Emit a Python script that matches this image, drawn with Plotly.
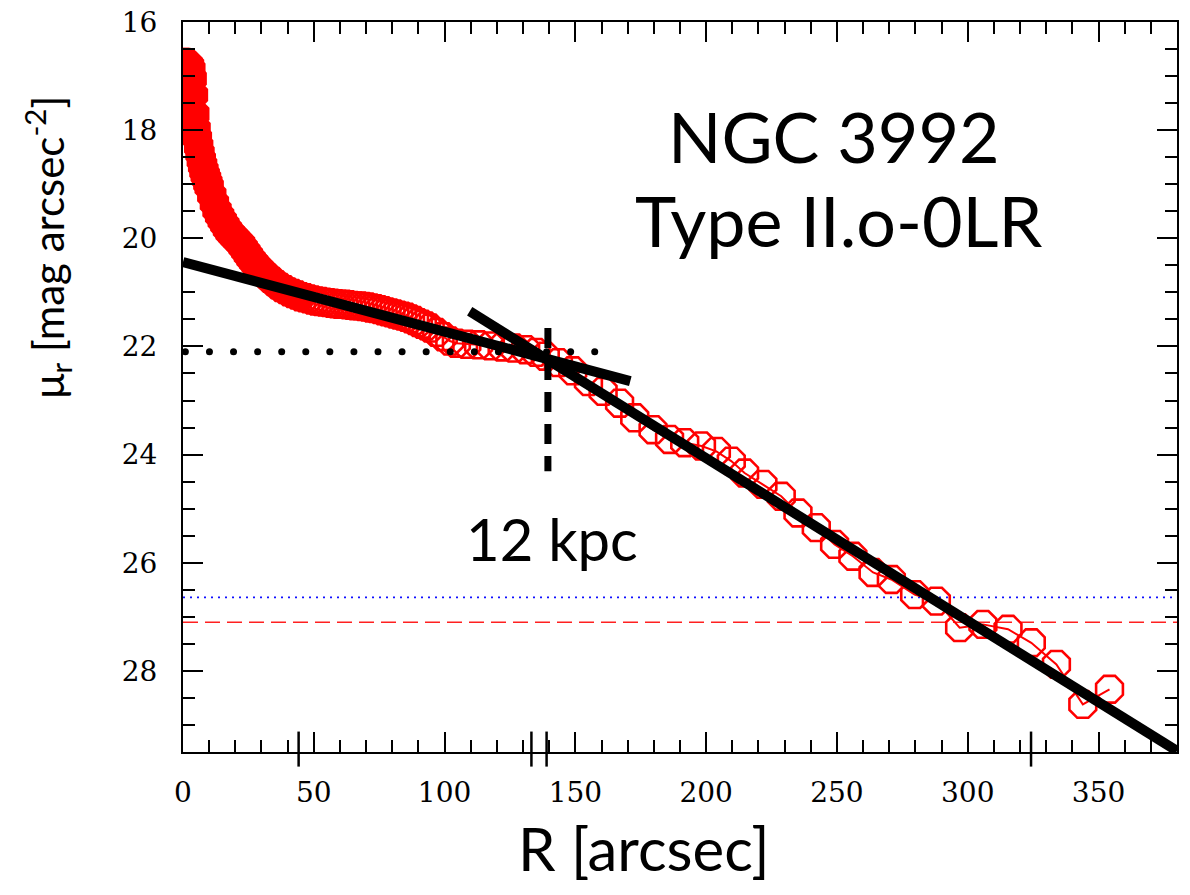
import numpy as np
import plotly.graph_objects as go

# ---------------- data ----------------
# inner, densely-sampled part of the profile (appears as a solid band)
R_inner = [0, 0.5, 1, 1.5, 2, 2.5, 3, 3.5, 4, 4.5, 5, 5.5, 6, 6.5, 7, 7.5, 8, 8.5, 9, 9.5, 10,
           11, 12, 13, 14, 15, 16, 17, 18, 19, 20, 21, 22, 23, 24, 25, 26, 27, 28, 29, 30,
           31.5, 33, 34.5, 36, 37.5, 39, 40.5, 42, 43.5, 45]
mu_inner = [16.75, 16.75, 16.76, 16.77, 16.78, 16.81, 16.88, 17.05, 17.35, 17.7, 17.98, 18.15, 18.3,
            18.43, 18.55, 18.65, 18.75, 18.83, 18.9, 18.98, 19.05,
            19.2, 19.35, 19.48, 19.58, 19.67, 19.75, 19.83, 19.9, 19.95, 20.0, 20.05, 20.1, 20.17,
            20.24, 20.31, 20.38, 20.44, 20.5, 20.55, 20.6,
            20.67, 20.74, 20.8, 20.86, 20.91, 20.95, 20.99, 21.02, 21.05, 21.08]
# outer part of the profile (individual open octagons)
R_outer = [46.5, 48, 49.5, 51, 52.5, 54, 55.5, 57, 58.5, 60, 61.5, 63, 64.5, 66, 67.5, 69, 70.5,
           72, 73.5, 75, 76.5, 78, 79.5, 81, 82.5, 84, 85.5, 87, 88.5, 90, 91.5, 93, 94.5,
           97, 99.5, 102, 104.5, 108.5, 113, 117.5, 122, 126.5, 131, 135, 138.5, 143.5, 149, 155,
           160.6, 166.9, 172.7, 179.7, 186.0, 191.8, 198.2, 203.9, 209.6, 214.7, 221.7, 228.7,
           235.1, 242.1, 249.1, 256.1, 263.8, 270.8, 279.7, 288.0, 296.9, 305.8, 315.4, 324.3,
           333.9, 344.0, 354.2]
mu_outer = [21.10, 21.12, 21.14, 21.16, 21.17, 21.18, 21.19, 21.20, 21.21, 21.22, 21.22, 21.23,
            21.24, 21.25, 21.25, 21.26, 21.27, 21.29, 21.30, 21.32, 21.34, 21.36, 21.38, 21.40,
            21.42, 21.44, 21.46, 21.49, 21.52, 21.56, 21.59, 21.62, 21.66,
            21.74, 21.82, 21.90, 21.94, 21.96, 21.97, 21.99, 22.01, 22.03, 22.06, 22.11, 22.18,
            22.30, 22.45, 22.65,
            22.83, 23.05, 23.32, 23.54, 23.72, 23.78, 23.84, 23.94, 24.12, 24.34, 24.55, 24.77,
            25.08, 25.35, 25.66, 25.88, 26.18, 26.31, 26.59, 26.71, 27.20, 27.14, 27.23, 27.48,
            27.88, 28.62, 28.34]

# exponential fits (end points)
fit_in_R = [0, 171]
fit_in_mu = [20.44, 22.64]
fit_out_R = [109.6, 380]
fit_out_mu = [21.35, 29.48]

# break
break_R = 139.5
break_mu = 22.1
break_dot_R = [-8.3, 157.4]
break_dash_mu = [21.66, 24.31]

# limits
mu_crit_blue = 26.64
mu_crit_red = 27.10
special_ticks_R = [44.2, 133.2, 139.0, 324.2]

x_ticks = [0, 50, 100, 150, 200, 250, 300, 350]
y_ticks = [16, 18, 20, 22, 24, 26, 28]

# ---------------- figure ----------------
R_all = R_inner + R_outer
mu_all = mu_inner + mu_outer
symbols = ["octagon"] * len(R_inner) + ["octagon-open"] * len(R_outer)

fig = go.Figure()

fig.add_trace(go.Scatter(
    x=R_all, y=mu_all, mode="lines+markers",
    line=dict(color="#ff0000", width=2),
    marker=dict(symbol=symbols, size=29, color="#ff0000",
                line=dict(color="#ff0000", width=2.6)),
    hoverinfo="skip", showlegend=False))

fig.add_trace(go.Scatter(x=fit_in_R, y=fit_in_mu, mode="lines",
                         line=dict(color="black", width=10), showlegend=False))
fig.add_trace(go.Scatter(x=fit_out_R, y=fit_out_mu, mode="lines",
                         line=dict(color="black", width=10), showlegend=False))

dots_R = np.linspace(break_dot_R[0], break_dot_R[1], 19)
fig.add_trace(go.Scatter(x=dots_R, y=[break_mu] * len(dots_R), mode="markers",
                         marker=dict(color="black", size=7), cliponaxis=False,
                         showlegend=False))
fig.add_trace(go.Scatter(x=[break_R, break_R], y=break_dash_mu, mode="lines",
                         line=dict(color="black", width=7, dash="20px,12px"),
                         showlegend=False))

shapes = [
    dict(type="line", xref="paper", yref="y", x0=0, x1=1, y0=mu_crit_blue, y1=mu_crit_blue,
         line=dict(color="#1010ff", width=1.8, dash="2px,5px"), layer="below"),
    dict(type="line", xref="paper", yref="y", x0=0, x1=1, y0=mu_crit_red, y1=mu_crit_red,
         line=dict(color="#ff2020", width=1.5, dash="15px,7px"), layer="below"),
]
for r in special_ticks_R:
    shapes.append(dict(type="line", xref="x", yref="paper", x0=r, x1=r, y0=-0.020, y1=0.028,
                       line=dict(color="black", width=2.5)))

tickfont = dict(family="DejaVu Serif", size=28, color="black")
axis_common = dict(showline=True, linecolor="black", linewidth=2, mirror="allticks",
                   ticks="inside", ticklen=20, tickwidth=1.5, tickcolor="black",
                   showgrid=False, zeroline=False, tickfont=tickfont, automargin=False)

fig.update_xaxes(range=[0, 380], tickvals=x_ticks, ticktext=[str(v) for v in x_ticks],
                 minor=dict(dtick=10, ticks="inside", ticklen=12, tickwidth=1.5, tickcolor="black"),
                 ticklabelstandoff=14, **axis_common)
fig.update_yaxes(range=[29.5, 16], tickvals=y_ticks, ticktext=[str(v) for v in y_ticks],
                 minor=dict(dtick=0.5, ticks="inside", ticklen=12, tickwidth=1.5, tickcolor="black"),
                 ticklabelstandoff=18, **axis_common)

title_font = dict(family="Lato", color="black")
annotations = [
    dict(text="NGC 3992", xref="paper", yref="paper", x=0.655, y=0.844, showarrow=False,
         font=dict(size=70, **title_font), xanchor="center", yanchor="middle"),
    dict(text="Type II.o-0LR", xref="paper", yref="paper", x=0.659, y=0.729, showarrow=False,
         font=dict(size=70, **title_font), xanchor="center", yanchor="middle"),
    dict(text="12 kpc", xref="paper", yref="paper", x=0.371, y=0.292, showarrow=False,
         font=dict(size=58, **title_font), xanchor="center", yanchor="middle"),
    dict(text="R [arcsec]", xref="paper", yref="paper", x=0.4638, y=-0.1315, showarrow=False,
         font=dict(size=60, **title_font), xanchor="center", yanchor="middle"),
    dict(text="μ<sub>r</sub> [mag arcsec<sup>-2</sup>]", xref="paper", yref="paper",
         x=-0.136, y=0.692, showarrow=False, textangle=-90,
         font=dict(size=42, **title_font), xanchor="center", yanchor="middle"),
]

fig.update_layout(width=1190, height=895, margin=dict(l=183, r=13, t=22, b=143),
                  plot_bgcolor="white", paper_bgcolor="white",
                  shapes=shapes, annotations=annotations, showlegend=False)

fig.write_html("out.html", config={"displayModeBar": False},
               post_script="document.body.style.margin='0';document.body.style.overflow='hidden';")
